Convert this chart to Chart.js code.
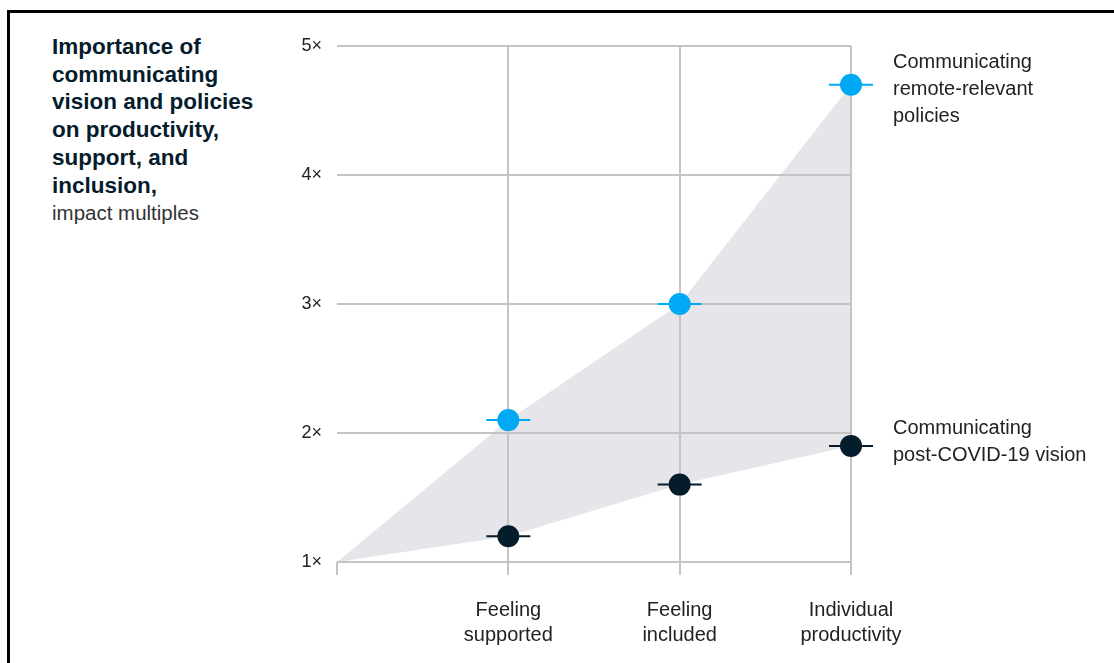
<!DOCTYPE html>
<html>
<head>
<meta charset="utf-8">
<script src="https://cdn.jsdelivr.net/npm/chart.js@4"></script>
<style>
  body { margin: 0; background: #fff; }
  #wrap { position: relative; width: 1114px; height: 663px; overflow: hidden; }
  #frame { position: absolute; left: 7px; top: 10px; width: 2000px; height: 2000px;
           border-top: 3px solid #000; border-left: 3px solid #000; }
  #title { position: absolute; left: 52px; top: 33px; font-family: "Liberation Sans", Arial, sans-serif;
           font-size: 22.5px; line-height: 27.7px; color: #051c2c; font-weight: bold; }
  #title span { font-weight: normal; color: #333; font-size: 20.5px; }
  canvas { position: absolute; left: 0; top: 0; }
</style>
</head>
<body>
<div id="wrap">
  <div id="frame"></div>
  <div id="title">Importance of<br>communicating<br>vision and policies<br>on productivity,<br>support, and<br>inclusion,<br><span>impact multiples</span></div>
  <canvas id="chart" width="1114" height="663"></canvas>
</div>
<script>
// data
const categories = [["Feeling", "supported"], ["Feeling", "included"], ["Individual", "productivity"]];
const policies = [2.1, 3.0, 4.7];   // Communicating remote-relevant policies
const vision = [1.2, 1.6, 1.9];     // Communicating post-COVID-19 vision
const baseline = 1;                 // both start from 1x at the origin
const yTicks = ["1×", "2×", "3×", "4×", "5×"];
const seriesLabels = [["Communicating", "remote-relevant", "policies"], ["Communicating", "post-COVID-19 vision"]];

const blue = "#00a9f4";
const navy = "#051c2c";
const gridGrey = "#c4c4c4";
const font = "'Liberation Sans', Arial, sans-serif";

const toPoints = vals => vals.map((v, i) => ({ x: i + 1, y: v }));
const withOrigin = vals => [{ x: 0, y: baseline }].concat(toPoints(vals));

const pointSet = (vals, color, style, radius) => ({
    data: toPoints(vals),
    showLine: false,
    clip: false,
    pointStyle: style,
    pointRadius: radius,
    pointBorderWidth: 2,
    pointBorderColor: color,
    pointBackgroundColor: color
});

// draws the series names to the right of the last point
const endLabels = {
    id: "endLabels",
    afterDatasetsDraw(chart) {
        const ctx = chart.ctx;
        const sets = [[3, 0, -22], [5, 1, -17]];
        ctx.save();
        ctx.font = "20px " + font;
        ctx.fillStyle = "#222";
        ctx.textBaseline = "middle";
        ctx.textAlign = "left";
        sets.forEach(([dsIndex, li, dy]) => {
            const meta = chart.getDatasetMeta(dsIndex);
            const last = meta.data[meta.data.length - 1];
            seriesLabels[li].forEach((t, k) => ctx.fillText(t, last.x + 42, last.y + dy + k * 27));
        });
        ctx.restore();
    }
};

new Chart(document.getElementById("chart").getContext("2d"), {
    type: "line",
    data: {
        datasets: [
            {
                data: withOrigin(policies),
                fill: "+1",
                backgroundColor: "#e6e6ea",
                borderWidth: 0,
                borderColor: "rgba(0,0,0,0)",
                pointRadius: 0,
                tension: 0
            },
            {
                data: withOrigin(vision),
                fill: false,
                borderWidth: 0,
                borderColor: "rgba(0,0,0,0)",
                pointRadius: 0,
                tension: 0
            },
            pointSet(policies, blue, "line", 22),
            pointSet(policies, blue, "circle", 10),
            pointSet(vision, navy, "line", 22),
            pointSet(vision, navy, "circle", 10)
        ]
    },
    options: {
        responsive: false,
        animation: false,
        events: [],
        layout: { padding: { left: 277, right: 263, top: 46, bottom: 1 } },
        plugins: {
            legend: { display: false },
            tooltip: { enabled: false },
            filler: { drawTime: "beforeDraw" }
        },
        scales: {
            x: {
                type: "linear",
                min: 0,
                max: 3,
                afterFit: s => { s.height = 100; },
                border: { display: false },
                grid: {
                    color: c => (c.tick && c.tick.value === 0 ? "rgba(0,0,0,0)" : gridGrey),
                    tickColor: gridGrey,
                    tickLength: 13,
                    lineWidth: 2
                },
                ticks: {
                    stepSize: 1,
                    padding: 23,
                    color: "#222",
                    font: { family: font, size: 20, lineHeight: 1.25 },
                    maxRotation: 0,
                    callback: v => (v === 0 ? "" : categories[v - 1])
                }
            },
            y: {
                min: 1,
                max: 5,
                afterFit: s => { s.width = 60; },
                border: { display: false },
                grid: { color: gridGrey, lineWidth: 2, drawTicks: false },
                ticks: {
                    stepSize: 1,
                    padding: 15,
                    color: "#222",
                    font: { family: font, size: 18 },
                    callback: v => yTicks[v - 1]
                }
            }
        }
    },
    plugins: [endLabels]
});
</script>
</body>
</html>
